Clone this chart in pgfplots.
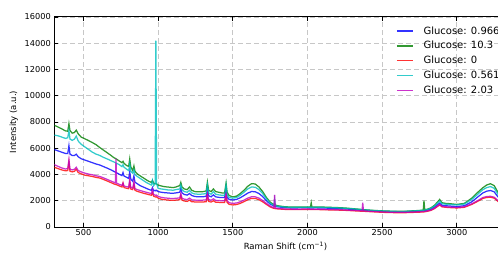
\documentclass[border=0pt]{standalone}
\usepackage{fontspec}
\setmainfont{DejaVu Sans}
\usepackage{pgfplots}
\usepackage{pgfplotstable}
\pgfplotsset{compat=1.18}
\definecolor{mblue}{rgb}{0,0,1}
\definecolor{mgreen}{rgb}{0,0.5,0}
\definecolor{mred}{rgb}{1,0,0}
\definecolor{mcyan}{rgb}{0,0.75,0.75}
\definecolor{mmag}{rgb}{0.75,0,0.75}
\pgfplotstableread{
x B G R C M
305 5900 7750 4550 7000 4750
330 5800 7620 4450 6950 4620
355 5700 7480 4350 6850 4500
380 5600 7320 4280 6750 4420
395 5600 7300 4300 6800 4450
403 6200 7880 4950 7350 5150
410 5550 7350 4250 6700 4400
425 5450 7150 4200 6600 4350
440 5450 7200 4250 6700 4400
452 5550 7380 4400 6930 4550
465 5350 7100 4150 6550 4300
485 5200 6850 4050 6300 4200
510 5100 6720 3950 6100 4100
535 5000 6580 3900 5900 4030
560 4900 6430 3850 5700 3980
585 4800 6270 3780 5550 3900
610 4720 6050 3730 5450 3850
635 4600 5850 3620 5300 3740
660 4480 5650 3500 5180 3620
685 4350 5450 3380 5050 3500
705 4230 5270 3280 4950 3400
714 4180 5230 3240 4900 3360
718 4150 5200 3230 4880 5200
722 4130 5170 3220 4850 3340
740 4020 5030 3130 4750 3250
758 3920 4900 3050 4600 3170
765 4150 5000 3350 4750 3350
772 3880 4850 3000 4550 3120
790 3780 4680 2950 4400 3070
803 3700 4620 2920 4300 3040
810 4200 5180 3400 4800 3650
817 3650 4580 2900 4250 3020
830 3480 4300 2850 4100 2970
838 3900 4650 3250 4350 3450
845 3420 4250 2800 4000 2920
860 3300 4050 2720 3850 2850
880 3150 3900 2650 3700 2780
900 3050 3750 2580 3550 2710
920 2950 3600 2520 3400 2650
940 2850 3470 2460 3280 2590
955 2800 3400 2420 3200 2550
962 3000 3550 2600 3550 2850
970 2750 3350 2350 3150 2480
980 2800 3300 2300 3300 2430
985 2750 3300 2280 14200 2410
990 2800 3280 2300 3300 2430
1000 2700 3200 2200 2950 2330
1020 2650 3130 2120 2900 2260
1040 2620 3080 2080 2870 2220
1060 2600 3050 2060 2830 2200
1080 2580 3030 2040 2820 2180
1100 2570 3000 2030 2800 2170
1120 2600 3050 2050 2850 2190
1130 2620 3100 2060 2870 2200
1145 2650 3150 2080 2900 2220
1152 2950 3400 2400 3200 2550
1160 2600 3050 2050 2850 2190
1175 2480 2900 1980 2700 2120
1195 2430 2850 1950 2650 2090
1210 2550 3050 2050 2800 2200
1225 2400 2800 1930 2600 2070
1245 2330 2700 1910 2520 2050
1265 2300 2680 1900 2500 2040
1285 2300 2680 1900 2500 2040
1305 2310 2700 1910 2520 2050
1322 2340 2750 1930 2550 2070
1330 2900 3420 2400 3200 2550
1338 2380 2800 1950 2600 2090
1355 2300 2700 1900 2500 2040
1370 2450 2900 2000 2700 2150
1385 2300 2700 1890 2500 2030
1405 2260 2650 1880 2450 2020
1425 2240 2600 1860 2420 2000
1445 2240 2600 1860 2420 2000
1455 2900 3350 2350 3200 2500
1462 2260 2650 1870 2450 2010
1475 2100 2400 1730 2250 1850
1500 2060 2300 1680 2200 1800
1525 2100 2350 1710 2250 1830
1550 2230 2550 1800 2420 1920
1575 2400 2800 1930 2650 2050
1600 2580 3100 2080 2900 2200
1625 2700 3300 2180 3050 2300
1650 2690 3280 2180 3030 2300
1675 2550 3050 2080 2850 2200
1700 2320 2700 1920 2550 2020
1725 2000 2250 1720 2150 1800
1750 1750 1900 1530 1820 1600
1775 1600 1700 1420 1650 1470
1780 1590 1690 1410 2100 2450
1785 1580 1680 1400 1630 1450
1800 1540 1620 1380 1580 1420
1850 1470 1540 1340 1520 1370
1900 1450 1520 1330 1500 1360
1950 1460 1520 1330 1510 1360
2000 1460 1530 1340 1510 1370
2020 1450 1520 1330 1500 1360
2025 1450 1850 1330 1500 1360
2030 1450 1520 1330 1500 1360
2050 1460 1530 1330 1510 1360
2100 1450 1520 1320 1500 1350
2150 1430 1500 1300 1480 1330
2200 1410 1480 1290 1460 1320
2250 1380 1450 1270 1430 1300
2300 1340 1400 1240 1390 1270
2350 1300 1350 1210 1340 1240
2365 1290 1330 1200 1320 1230
2370 1290 1330 1200 1320 1850
2375 1280 1320 1200 1310 1230
2400 1260 1300 1180 1290 1210
2450 1220 1260 1150 1250 1180
2500 1190 1230 1120 1220 1150
2550 1170 1210 1100 1200 1130
2600 1160 1200 1090 1190 1120
2650 1160 1200 1090 1190 1120
2700 1180 1230 1110 1220 1140
2750 1210 1260 1130 1250 1160
2775 1230 1290 1150 1280 1180
2780 1230 2000 1150 1280 1180
2785 1240 1300 1160 1290 1190
2800 1280 1350 1190 1330 1220
2825 1360 1450 1260 1420 1290
2850 1520 1650 1400 1600 1430
2870 1700 1900 1560 1820 1600
2885 1820 2100 1680 1980 1720
2900 1660 1850 1540 1780 1580
2925 1620 1800 1500 1740 1540
2950 1600 1780 1480 1720 1520
3000 1560 1720 1450 1680 1490
3050 1620 1800 1500 1750 1540
3100 1920 2200 1720 2100 1770
3150 2380 2750 2020 2600 2080
3175 2600 3000 2180 2850 2250
3200 2730 3200 2250 3000 2320
3225 2780 3300 2270 3080 2340
3250 2680 3150 2200 2950 2270
3275 2300 2650 1950 2500 2020
3300 2100 2400 1800 2300 1860
}\spectra
\begin{document}
\begin{tikzpicture}
\begin{axis}[
  scale only axis, width=462.3pt, height=210pt,
  xmin=305, xmax=3400, ymin=0, ymax=16000,
  xtick={500,1000,1500,2000,2500,3000},
  ytick={0,2000,4000,6000,8000,10000,12000,14000,16000},
  scaled y ticks=false, scaled x ticks=false,
  /pgf/number format/1000 sep={},
  /pgf/number format/assume math mode=true,
  grid=major,
  major grid style={color=black!22, line width=0.8pt, dash pattern=on 5pt off 3pt},
  axis line style={line width=1pt},
  tick style={black, line width=0.8pt},
  major tick length=4pt,
  tick label style={font=\fontsize{8.2}{10}\selectfont},
  xticklabel style={yshift=1.5pt},
  label style={font=\fontsize{8.5}{10}\selectfont},
  xlabel={Raman Shift (cm\textsuperscript{−1})},
  ylabel={Intensity (a.u.)},
  legend style={draw=none, fill=none, inner sep=0pt,
    at={(axis description cs:0.739,0.965)}, anchor=north west,
    font=\fontsize{10}{12}\selectfont, row sep=1.7pt,
    nodes={inner sep=2pt, text height=7.6pt, text depth=1.5pt}},
  legend cell align=left,
  legend image code/.code={\draw[#1, line width=1.5pt] (0pt,0pt) -- (16pt,0pt); \path (0pt,0pt) (24pt,0pt);},
]
\addplot[mblue, line width=1.25pt, opacity=0.8, mark=none] table[x=x,y=B]{\spectra};
\addlegendentry{Glucose: 0.966}
\addplot[mgreen, line width=1.25pt, opacity=0.8, mark=none] table[x=x,y=G]{\spectra};
\addlegendentry{Glucose: 10.3}
\addplot[mred, line width=1.25pt, opacity=0.8, mark=none] table[x=x,y=R]{\spectra};
\addlegendentry{Glucose: 0}
\addplot[mcyan, line width=1.25pt, opacity=0.8, mark=none] table[x=x,y=C]{\spectra};
\addlegendentry{Glucose: 0.561}
\addplot[mmag, line width=1.25pt, opacity=0.8, mark=none] table[x=x,y=M]{\spectra};
\addlegendentry{Glucose: 2.03}
\end{axis}
\pgfresetboundingbox
\path[use as bounding box] (current axis.south west) ++(-54.3pt,-25pt) rectangle ++(498pt,252pt);
\end{tikzpicture}
\end{document}
